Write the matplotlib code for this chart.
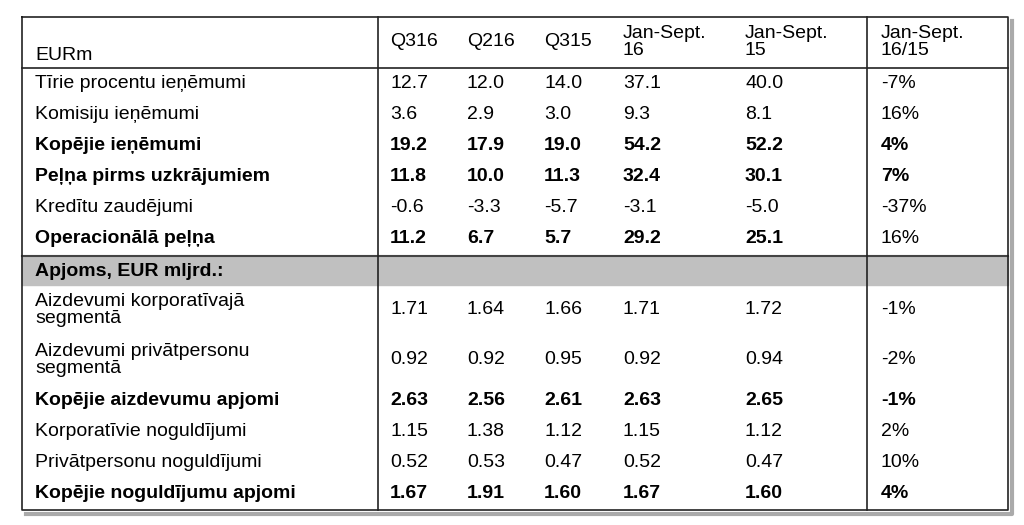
import matplotlib
matplotlib.use("Agg")
import matplotlib.pyplot as plt

plt.rcParams["font.family"] = ["Liberation Sans", "DejaVu Sans"]

col_headers = ["Q316", "Q216", "Q315", "Jan-Sept.\n16", "Jan-Sept.\n15", "Jan-Sept.\n16/15"]
row_labels = [
    "Tīrie procentu ieņēmumi", "Komisiju ieņēmumi", "Kopējie ieņēmumi",
    "Peļņa pirms uzkrājumiem", "Kredītu zaudējumi", "Operacionālā peļņa",
    "Apjoms, EUR mljrd.:",
    "Aizdevumi korporatīvajā\nsegmentā", "Aizdevumi privātpersonu\nsegmentā",
    "Kopējie aizdevumu apjomi", "Korporatīvie noguldījumi",
    "Privātpersonu noguldījumi", "Kopējie noguldījumu apjomi",
]
values = [
    ["12.7", "12.0", "14.0", "37.1", "40.0", "-7%"],
    ["3.6", "2.9", "3.0", "9.3", "8.1", "16%"],
    ["19.2", "17.9", "19.0", "54.2", "52.2", "4%"],
    ["11.8", "10.0", "11.3", "32.4", "30.1", "7%"],
    ["-0.6", "-3.3", "-5.7", "-3.1", "-5.0", "-37%"],
    ["11.2", "6.7", "5.7", "29.2", "25.1", "16%"],
    ["", "", "", "", "", ""],
    ["1.71", "1.64", "1.66", "1.71", "1.72", "-1%"],
    ["0.92", "0.92", "0.95", "0.92", "0.94", "-2%"],
    ["2.63", "2.56", "2.61", "2.63", "2.65", "-1%"],
    ["1.15", "1.38", "1.12", "1.15", "1.12", "2%"],
    ["0.52", "0.53", "0.47", "0.52", "0.47", "10%"],
    ["1.67", "1.91", "1.60", "1.67", "1.60", "4%"],
]
bold_rows = {2, 3, 5, 6, 9, 12}
bold_pct_rows = {2, 3, 9, 12}

# layout in pixels
left, right, top, bottom = 22, 1008, 17, 510
header_bottom = 68
row_h = [31, 31, 31, 31, 31, 31, 31, 50, 50, 31, 31, 31, 31]
col_x = [390, 467, 544, 623, 745, 881]
vlines = [378, 867]

fig = plt.figure(figsize=(10.24, 5.25), dpi=100)
ax = fig.add_axes([0, 0, 1, 1])
ax.set_xlim(0, 1024)
ax.set_ylim(525, 0)
ax.axis("off")

fs = 14
# shadow
ax.plot([left + 4, right + 4, right + 4], [bottom + 4, bottom + 4, top + 4], color="#aaaaaa", lw=3, zorder=0)
ax.fill_between([left, right], top, bottom, color="white", zorder=1)

ax.text(35, 55, "EURm", fontsize=fs, va="center", zorder=3)
for x, h in zip(col_x, col_headers):
    ax.text(x, 42, h, fontsize=fs, va="center", linespacing=0.95, zorder=3)

y = header_bottom
for i, (lab, vals, h) in enumerate(zip(row_labels, values, row_h)):
    yc = y + h / 2
    if i == 6:
        ax.fill_between([left, right], y + 2, y + h, color="#c0c0c0", zorder=2)
        ax.plot([left, right], [y + 2, y + 2], color="#444444", lw=1.5, zorder=3)
        yc += 2
    w = "bold" if i in bold_rows else "normal"
    ax.text(35, yc, lab, fontsize=fs, va="center", weight=w, linespacing=1.0, zorder=3)
    for j, (x, v) in enumerate(zip(col_x, vals)):
        vw = w if j < 5 else ("bold" if i in bold_pct_rows else "normal")
        ax.text(x, yc, v, fontsize=fs, va="center", weight=vw, zorder=3)
    y += h

lc = "#222222"
ax.plot([left, right, right, left, left], [top, top, bottom, bottom, top], color=lc, lw=1.2, zorder=4)
ax.plot([left, right], [header_bottom, header_bottom], color=lc, lw=1.2, zorder=4)
for vx in vlines:
    ax.plot([vx, vx], [top, bottom], color=lc, lw=1.2, zorder=4)

fig.savefig("out.png", dpi=100)
